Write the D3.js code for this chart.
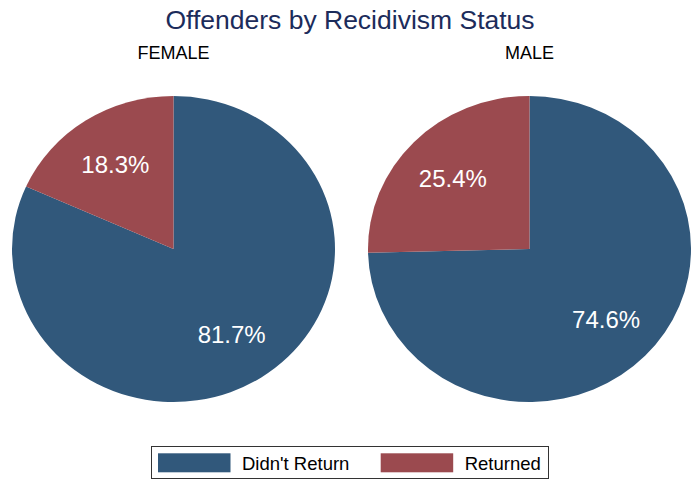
<!DOCTYPE html>
<html>
<head>
<meta charset="utf-8">
<script src="https://cdn.jsdelivr.net/npm/d3@7"></script>
<style>
  body { margin: 0; background: #fff; }
  svg { display: block; font-family: "Liberation Sans", Arial, sans-serif; }
</style>
</head>
<body>
<svg id="chart" width="693" height="481"></svg>
<script>
const title = "Offenders by Recidivism Status";
const panels = ["FEMALE", "MALE"];
const categories = ["Didn't Return", "Returned"];
const didntReturn = [81.7, 74.6];
const returned = [18.3, 25.4];
const colors = ["#31587b", "#9b4a4f"];

const W = 693, H = 481;
const svg = d3.select("#chart");
svg.append("rect").attr("width", W).attr("height", H).attr("fill", "#fff");

svg.append("text")
  .attr("x", 350).attr("y", 28.5)
  .attr("text-anchor", "middle")
  .attr("font-size", 26.5)
  .attr("fill", "#1c2c5b")
  .text(title);

const rx = 161.5, ry = 153;
const panelX = d3.scalePoint().domain(panels).range([173.5, 529.5]);
const cy = 249;
const color = d3.scaleOrdinal().domain(categories).range(colors);

const pie = d3.pie().sort(null).value(d => d.value);
const arc = d3.arc().innerRadius(0).outerRadius(rx);
const labelArc = d3.arc().innerRadius(0).outerRadius(rx * 1.325);

panels.forEach((p, i) => {
  const cx = panelX(p);
  const data = [
    { cat: categories[0], value: didntReturn[i] },
    { cat: categories[1], value: returned[i] }
  ];
  const arcs = pie(data);
  svg.append("text")
    .attr("x", cx).attr("y", 58.5)
    .attr("text-anchor", "middle")
    .attr("font-size", 18)
    .attr("fill", "#000")
    .text(p);

  const g = svg.append("g")
    .attr("transform", `translate(${cx},${cy}) scale(1,${ry / rx})`);
  g.selectAll("path").data(arcs).enter().append("path")
    .attr("d", arc)
    .attr("fill", d => color(d.data.cat));

  arcs.forEach(a => {
    const c = labelArc.centroid(a);
    svg.append("text")
      .attr("x", cx + c[0])
      .attr("y", cy + c[1] * ry / rx)
      .attr("dy", "0.36em")
      .attr("text-anchor", "middle")
      .attr("font-size", 24)
      .attr("fill", "#fff")
      .text(d3.format(".1f")(a.data.value) + "%");
  });
});

// Legend
const leg = svg.append("g");
leg.append("rect")
  .attr("x", 151.5).attr("y", 446.5).attr("width", 397).attr("height", 32)
  .attr("fill", "#fff").attr("stroke", "#333").attr("stroke-width", 1);
const legX = d3.scalePoint().domain(categories).range([158, 380.7]);
categories.forEach(c => {
  const x = legX(c);
  leg.append("rect")
    .attr("x", x).attr("y", 453.3).attr("width", 72.5).attr("height", 19)
    .attr("fill", color(c));
  leg.append("text")
    .attr("x", x + 84).attr("y", 470)
    .attr("font-size", 18.5)
    .attr("fill", "#000")
    .text(c);
});
</script>
</body>
</html>
